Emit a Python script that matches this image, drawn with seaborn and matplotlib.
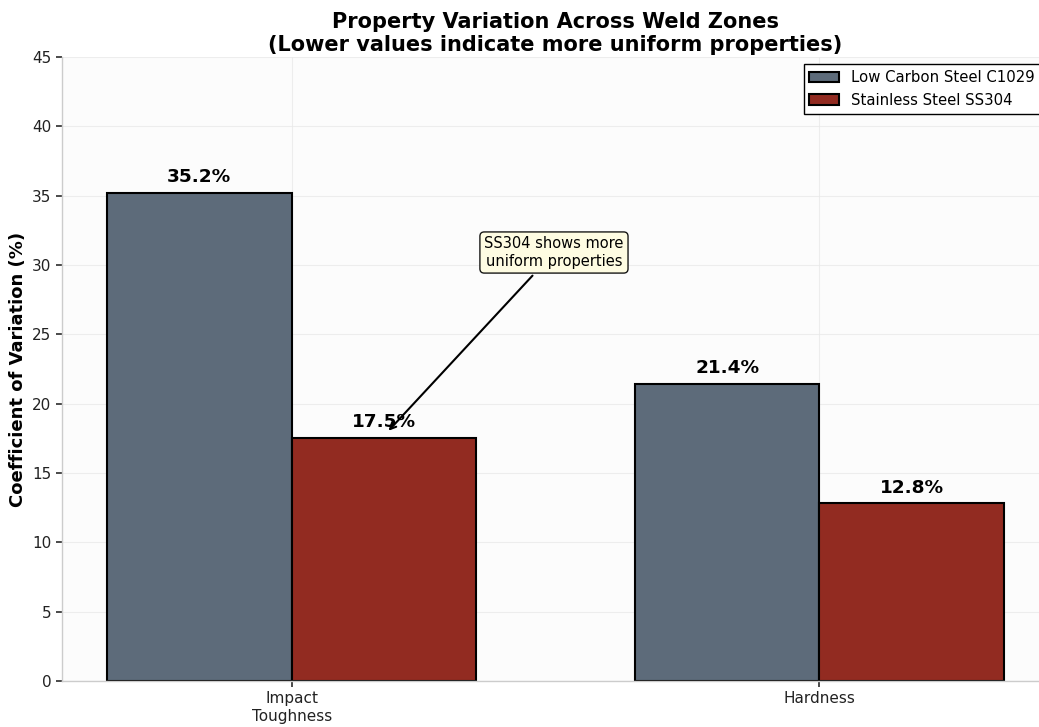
import matplotlib
matplotlib.use("Agg")
import matplotlib.pyplot as plt
import seaborn as sns
import pandas as pd

properties = ["Impact\nToughness", "Hardness"]
materials = ["Low Carbon Steel C1029", "Stainless Steel SS304"]
cv_c1029 = [35.2, 21.4]
cv_ss304 = [17.5, 12.8]
palette = ["#5d6b7a", "#922b21"]

df = pd.DataFrame({
    "Property": properties * 2,
    "Material": [materials[0]] * 2 + [materials[1]] * 2,
    "CV": cv_c1029 + cv_ss304,
})

sns.set_theme(style="whitegrid")
plt.rcParams["font.family"] = ["DejaVu Sans"]
plt.rcParams["font.sans-serif"] = ["DejaVu Sans"]
plt.rcParams["text.color"] = "black"
plt.rcParams["axes.labelcolor"] = "black"
plt.rcParams["xtick.color"] = "#222222"
plt.rcParams["ytick.color"] = "#222222"

fig = plt.figure(figsize=(10.39, 7.27), dpi=100)
ax = fig.add_axes([0.0597, 0.0633, 0.95, 0.8583])
ax.set_facecolor("#fcfcfc")

sns.barplot(data=df, x="Property", y="CV", hue="Material", palette=palette,
            saturation=1, edgecolor="black", linewidth=1.5, ax=ax, width=0.7)

for container in ax.containers:
    for bar in container:
        h = bar.get_height()
        ax.text(bar.get_x() + bar.get_width() / 2, h + 0.5, f"{h:.1f}%",
                ha="center", va="bottom", fontsize=13.3, fontweight="bold")

ax.annotate("SS304 shows more\nuniform properties",
            xy=(0.18, 17.9), xytext=(0.497, 30.9),
            ha="center", va="center", fontsize=10.5,
            bbox=dict(boxstyle="round,pad=0.3", facecolor="#fffde0", edgecolor="black", alpha=0.9),
            arrowprops=dict(arrowstyle="->", color="black", lw=1.5))

ax.set_xlim(-0.435, 1.435)
ax.set_ylim(0, 45)
ax.set_yticks(range(0, 46, 5))
ax.set_xlabel("")
ax.set_ylabel("Coefficient of Variation (%)", fontsize=13, fontweight="bold")
ax.set_title("Property Variation Across Weld Zones\n(Lower values indicate more uniform properties)",
             fontsize=15, fontweight="bold", pad=4, linespacing=1.2)
ax.tick_params(axis="both", labelsize=11, length=4, color="#333333", left=True, bottom=True)
ax.grid(True, color="#e8e8e8", linewidth=0.8, alpha=0.7)
for side in ["top", "right"]:
    ax.spines[side].set_visible(False)
for side in ["left", "bottom"]:
    ax.spines[side].set_color("#cccccc")
    ax.spines[side].set_linewidth(1.0)

leg = ax.legend(loc="upper right", fontsize=10.7, frameon=True, fancybox=False,
                edgecolor="black", framealpha=1, bbox_to_anchor=(0.999, 1.0))
leg.get_frame().set_linewidth(1.0)

fig.savefig("out.png", dpi=100)
